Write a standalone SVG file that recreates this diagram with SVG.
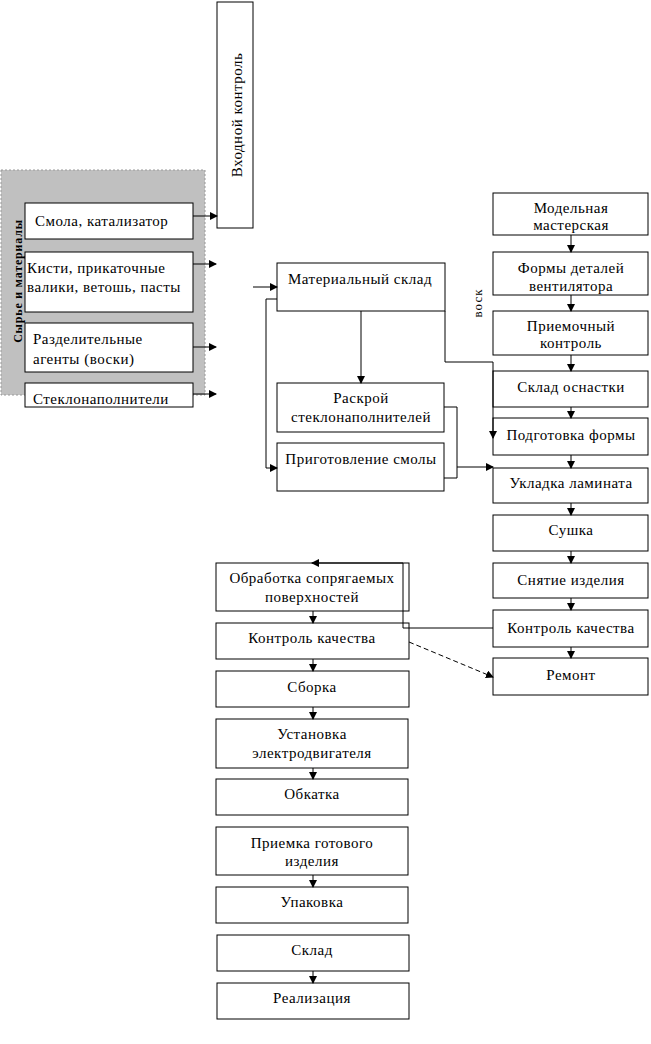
<svg xmlns="http://www.w3.org/2000/svg" width="651" height="1044" viewBox="0 0 651 1044">
<style>
.b{fill:#fff;stroke:#000;stroke-width:1}
.t{font-family:"Liberation Serif","Times New Roman",serif;font-size:15px;fill:#000;letter-spacing:0.5px}
.c{text-anchor:middle}
.l{fill:none;stroke:#000;stroke-width:1}
</style>
<defs>
<marker id="a" markerWidth="8" markerHeight="8" refX="7" refY="4" orient="auto" markerUnits="userSpaceOnUse">
<path d="M0,0 L8,4 L0,8 Z" fill="#000"/>
</marker>
</defs>
<rect x="1" y="170" width="204" height="225" fill="#c0c0c0" stroke="#999" stroke-dasharray="2,2"/>
<text class="t" transform="translate(22,281) rotate(-90)" text-anchor="middle" style="font-size:12px;font-weight:bold;letter-spacing:0.8px">Сырье и материалы</text>

<g id="n_smola"><rect class="b" x="25" y="203" width="168" height="36"/><text class="t" x="35" y="226">Смола, катализатор</text></g>
<g id="n_kisti"><rect class="b" x="25" y="252" width="168" height="60"/><text class="t" x="27" y="273">Кисти, прикаточные</text><text class="t" x="27" y="292">валики, ветошь, пасты</text></g>
<g id="n_razd"><rect class="b" x="25" y="323" width="168" height="49"/><text class="t" x="33" y="344">Разделительные</text><text class="t" x="33" y="364">агенты (воски)</text></g>
<g id="n_steklo"><rect class="b" x="25" y="383" width="168" height="24"/><text class="t" x="33" y="404">Стеклонаполнители</text></g>
<g id="n_vhod"><rect class="b" x="217" y="2" width="36" height="226"/><text class="t c" transform="translate(242,115) rotate(-90)">Входной контроль</text></g>

<g id="n_matsklad"><rect class="b" x="277" y="263" width="168" height="48"/><text class="t" x="288" y="284">Материальный склад</text></g>
<g id="n_raskroy"><rect class="b" x="277" y="383" width="167" height="49"/><text class="t c" x="361" y="403">Раскрой</text><text class="t c" x="361" y="422">стеклонаполнителей</text></g>
<g id="n_prig"><rect class="b" x="277" y="443" width="167" height="48"/><text class="t c" x="361" y="464">Приготовление смолы</text></g>

<g id="n_model"><rect class="b" x="493" y="193" width="155" height="42"/><text class="t c" x="571" y="213">Модельная</text><text class="t c" x="571" y="230">мастерская</text></g>
<g id="n_formy"><rect class="b" x="493" y="252" width="155" height="43"/><text class="t c" x="571" y="273">Формы деталей</text><text class="t c" x="571" y="291">вентилятора</text></g>
<g id="n_priem"><rect class="b" x="493" y="311" width="155" height="44"/><text class="t c" x="571" y="331">Приемочный</text><text class="t c" x="571" y="348">контроль</text></g>
<g id="n_osn"><rect class="b" x="493" y="371" width="155" height="36"/><text class="t c" x="571" y="392">Склад оснастки</text></g>
<g id="n_podg"><rect class="b" x="493" y="418" width="155" height="37"/><text class="t c" x="571" y="440">Подготовка формы</text></g>
<g id="n_ukl"><rect class="b" x="493" y="468" width="155" height="35"/><text class="t c" x="571" y="488">Укладка ламината</text></g>
<g id="n_sush"><rect class="b" x="493" y="515" width="155" height="36"/><text class="t c" x="571" y="535">Сушка</text></g>
<g id="n_snyat"><rect class="b" x="493" y="563" width="155" height="35"/><text class="t c" x="571" y="585">Снятие изделия</text></g>
<g id="n_kk1"><rect class="b" x="493" y="610" width="155" height="37"/><text class="t c" x="571" y="633">Контроль качества</text></g>
<g id="n_rem"><rect class="b" x="493" y="658" width="155" height="37"/><text class="t c" x="571" y="680">Ремонт</text></g>

<g id="n_obr"><rect class="b" x="216" y="563" width="193" height="48"/><text class="t c" x="312" y="583">Обработка сопрягаемых</text><text class="t c" x="312" y="602">поверхностей</text></g>
<g id="n_kk2"><rect class="b" x="216" y="623" width="193" height="36"/><text class="t c" x="312" y="643">Контроль качества</text></g>
<g id="n_sbor"><rect class="b" x="216" y="671" width="193" height="36"/><text class="t c" x="312" y="692">Сборка</text></g>
<g id="n_ust"><rect class="b" x="216" y="719" width="192" height="49"/><text class="t c" x="312" y="739">Установка</text><text class="t c" x="312" y="758">электродвигателя</text></g>
<g id="n_obk"><rect class="b" x="216" y="779" width="192" height="36"/><text class="t c" x="312" y="799">Обкатка</text></g>
<g id="n_priemka"><rect class="b" x="216" y="827" width="192" height="48"/><text class="t c" x="312" y="848">Приемка готового</text><text class="t c" x="312" y="866">изделия</text></g>
<g id="n_upak"><rect class="b" x="216" y="887" width="192" height="36"/><text class="t c" x="312" y="907">Упаковка</text></g>
<g id="n_sklad"><rect class="b" x="217" y="935" width="192" height="36"/><text class="t c" x="312" y="955">Склад</text></g>
<g id="n_real"><rect class="b" x="217" y="983" width="192" height="36"/><text class="t c" x="312" y="1003">Реализация</text></g>

<text class="t" transform="translate(482,303) rotate(-90)" text-anchor="middle" style="font-size:13px;letter-spacing:1px">воск</text>

<g id="connectors">
<path class="l" d="M193,216 H217" marker-end="url(#a)"/>
<path class="l" d="M193,264 H216" marker-end="url(#a)"/>
<path class="l" d="M193,347 H216" marker-end="url(#a)"/>
<path class="l" d="M193,394 H216" marker-end="url(#a)"/>
<path class="l" d="M253,287 H277" marker-end="url(#a)"/>
<path class="l" d="M277,299 H266 V468 H277" marker-end="url(#a)"/>
<path class="l" d="M361,311 V383" marker-end="url(#a)"/>
<path class="l" d="M444,407 H457 V478 H444"/>
<path class="l" d="M457,467 H493" marker-end="url(#a)"/>
<path class="l" d="M445,311 V362 H493 V438" marker-end="url(#a)"/>
<path class="l" d="M571,235 V252" marker-end="url(#a)"/>
<path class="l" d="M571,295 V311" marker-end="url(#a)"/>
<path class="l" d="M571,355 V371" marker-end="url(#a)"/>
<path class="l" d="M571,407 V418" marker-end="url(#a)"/>
<path class="l" d="M571,455 V468" marker-end="url(#a)"/>
<path class="l" d="M571,503 V515" marker-end="url(#a)"/>
<path class="l" d="M571,551 V563" marker-end="url(#a)"/>
<path class="l" d="M571,598 V610" marker-end="url(#a)"/>
<path class="l" d="M571,647 V658" marker-end="url(#a)"/>
<path class="l" d="M493,628 H403 V563 H312" marker-end="url(#a)"/>
<path class="l" d="M409,642 L493,677" stroke-dasharray="5,3" marker-end="url(#a)"/>
<path class="l" d="M313,611 V623" marker-end="url(#a)"/>
<path class="l" d="M313,659 V671" marker-end="url(#a)"/>
<path class="l" d="M313,707 V719" marker-end="url(#a)"/>
<path class="l" d="M313,768 V779" marker-end="url(#a)"/>
<path class="l" d="M313,875 V887" marker-end="url(#a)"/>
<path class="l" d="M313,971 V983" marker-end="url(#a)"/>
</g>
</svg>
